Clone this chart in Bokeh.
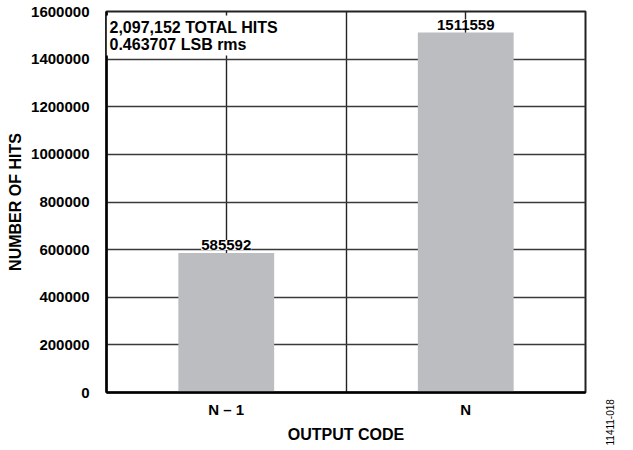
from bokeh.plotting import figure
from bokeh.layouts import row, column
from bokeh.models import (ColumnDataSource, Range1d, FixedTicker, Label,
                          LabelSet, NumeralTickFormatter)
from bokeh.core.properties import value
from bokeh.embed import file_html
from bokeh.resources import INLINE
import math

categories = ["N – 1", "N"]
hits = [585592, 1511559]
y_ticks = [0, 200000, 400000, 600000, 800000, 1000000, 1200000, 1400000, 1600000]
note_lines = ["2,097,152 TOTAL HITS", "0.463707 LSB rms"]
fig_id = "11411-018"

FONT = "Liberation Sans"
xs = list(range(len(categories)))
src = ColumnDataSource(dict(x=xs, top=hits, lab=[str(h) for h in hits]))

p = figure(frame_width=479, frame_height=381, output_backend="svg", toolbar_location=None,
           x_range=Range1d(-0.5, len(categories) - 0.5), y_range=Range1d(0, 1600000),
           min_border_left=106, min_border_right=14, min_border_top=11, min_border_bottom=55)
p.outline_line_color = "#222222"
p.outline_line_width = 2

# grid
p.ygrid.ticker = FixedTicker(ticks=y_ticks)
p.ygrid.grid_line_color = "#3a3a3a"
p.ygrid.grid_line_width = 1.4
p.xgrid.ticker = FixedTicker(ticks=[x for x in xs] + [x + 0.5 for x in xs[:-1]])
p.xgrid.grid_line_color = "#222222"
p.xgrid.grid_line_width = 1.4

p.vbar(x="x", top="top", width=0.4, source=src, color="#BCBDC1", line_color=None)

labels = LabelSet(x="x", y="top", text="lab", source=src, text_align="center",
                  text_baseline="bottom", y_offset=3, text_font=value(FONT),
                  text_font_style="bold", text_font_size="15px", text_color="black",
                  background_fill_color="white", border_line_color=None)
p.add_layout(labels)

note = Label(x=-0.5, y=1600000, x_offset=0, y_offset=-4, text="\n".join(note_lines),
             text_align="left", text_baseline="top", text_font=FONT,
             text_font_style="bold", text_font_size="16px", text_color="black",
             text_line_height=1.0, padding=3,
             background_fill_color="white", border_line_color=None)
p.add_layout(note)

# axes
p.xaxis.ticker = FixedTicker(ticks=xs)
p.xaxis.major_label_overrides = {x: c for x, c in zip(xs, categories)}
p.yaxis.ticker = FixedTicker(ticks=y_ticks)
p.yaxis.formatter = NumeralTickFormatter(format="0")
for ax in (p.xaxis, p.yaxis):
    ax.major_tick_line_color = None
    ax.minor_tick_line_color = None
    ax.axis_line_color = "black"
    ax.axis_line_width = 2.5
    ax.major_label_text_font = FONT
    ax.major_label_text_font_style = "bold"
    ax.major_label_text_font_size = "15px"
    ax.major_label_text_color = "black"
    ax.axis_label_text_font = FONT
    ax.axis_label_text_font_style = "bold"
    ax.axis_label_text_font_size = "16px"
    ax.axis_label_text_color = "black"
p.xaxis.axis_label = "OUTPUT CODE"
p.yaxis.axis_label = "NUMBER OF HITS"
p.xaxis.major_label_standoff = 2
p.xaxis.axis_label_standoff = 5
p.yaxis.major_label_standoff = 11
p.yaxis.axis_label_standoff = 4

# side strip carrying the figure id, read bottom-to-top
side = figure(width=30, height=447, output_backend="svg", toolbar_location=None,
              x_range=Range1d(0, 30), y_range=Range1d(0, 447),
              x_axis_location=None, y_axis_location=None, min_border=0)
side.grid.visible = False
side.outline_line_color = None
fid = Label(x=14, y=2, text=fig_id, angle=math.pi / 2, text_align="left",
            text_baseline="bottom", text_font=FONT, text_font_size="10px",
            text_color="black")
side.add_layout(fid)

layout = row(p, column(side, spacing=0), spacing=0)
open("out.html", "w").write(file_html(layout, INLINE))
